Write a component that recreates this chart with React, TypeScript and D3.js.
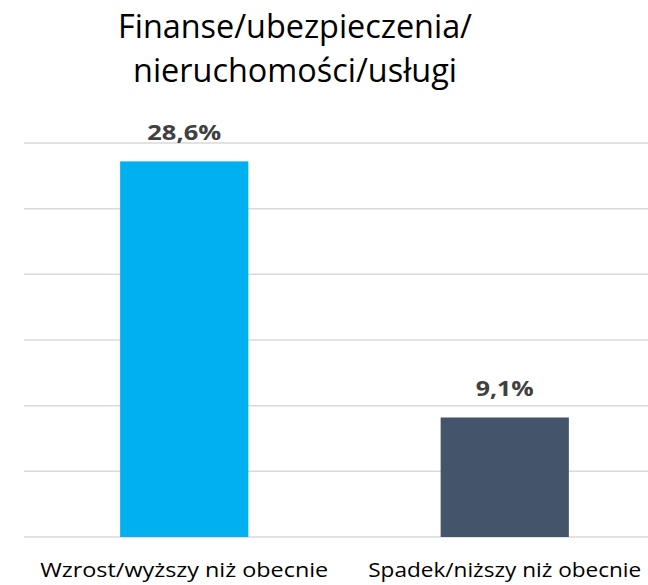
import React from "react";
import * as d3 from "d3";

const categories: string[] = ["Wzrost/wyższy niż obecnie", "Spadek/niższy niż obecnie"];
const values: number[] = [28.6, 9.1];
const valueLabels: string[] = ["28,6%", "9,1%"];
const barColors: string[] = ["#00B0F0", "#44546A"];
const yTicks: number[] = [0, 5, 10, 15, 20, 25, 30];
const titleLines: string[] = ["Finanse/ubezpieczenia/", "nieruchomości/usługi"];

const W = 648;
const H = 585;
const FONT = "'Open Sans', 'Noto Sans', sans-serif";

export default function App() {
  const x = d3.scaleBand<string>().domain(categories).range([24, 665]).paddingInner(0.6).paddingOuter(0.3);
  const y = d3.scaleLinear().domain([0, 30]).range([537, 143]);
  const catWidths = [288, 273];
  const valWidths = [74, 58];
  const titleWidths = [354, 324];
  return (
    <svg width={W} height={H} style={{ position: "absolute", left: 0, top: 0, background: "#fff" }}>
      <rect x={0} y={0} width={W} height={H} fill="#fff" />
      {titleLines.map((t, i) => (
        <text key={t} x={295} y={38 + i * 44} textAnchor="middle" fontFamily={FONT} fontSize={33} fill="#000"
          textLength={titleWidths[i]} lengthAdjust="spacingAndGlyphs">{t}</text>
      ))}
      {yTicks.map((t) => (
        <line key={t} x1={24} x2={W} y1={y(t)} y2={y(t)} stroke="#D9D9D9" strokeWidth={1.5} />
      ))}
      {categories.map((c, i) => {
        const bx = x(c)!;
        const bw = x.bandwidth();
        const cx = bx + bw / 2;
        return (
          <g key={c}>
            <rect x={bx} y={y(values[i])} width={bw} height={y(0) - y(values[i])} fill={barColors[i]} />
            <text x={cx} y={y(values[i]) - 21} textAnchor="middle" fontFamily={FONT} fontWeight="bold" fontSize={22} fill="#404040"
              textLength={valWidths[i]} lengthAdjust="spacingAndGlyphs">{valueLabels[i]}</text>
            <text x={cx} y={577} textAnchor="middle" fontFamily={FONT} fontSize={19.5} fill="#000"
              textLength={catWidths[i]} lengthAdjust="spacingAndGlyphs">{c}</text>
          </g>
        );
      })}
    </svg>
  );
}
